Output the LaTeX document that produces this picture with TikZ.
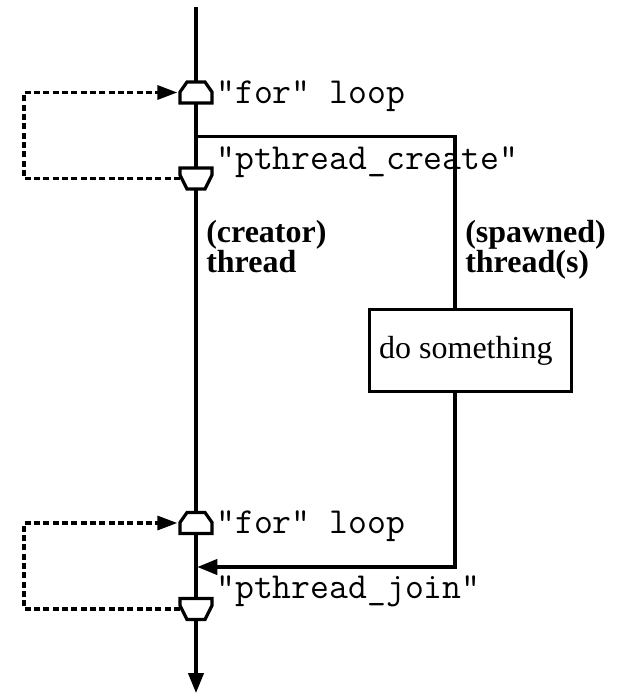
\documentclass[tikz,border=0pt]{standalone}
\usepackage{fontspec}
\setmainfont{Liberation Serif}
\usetikzlibrary{arrows.meta}
\begin{document}
\begin{tikzpicture}[x=0.75pt,y=-0.75pt,line join=miter,
  flow/.style={line width=2.4pt},
  tipA/.style={-{Triangle[length=15pt,width=11.5pt]}},
  loopdash/.style={line width=2.4pt,dash pattern=on 4.5pt off 2.5pt,-{Triangle[length=15pt,width=10.5pt]},shorten >=2pt},
  sym/.style={minimum width=24pt,minimum height=15.75pt,inner sep=0pt,outer sep=0pt},
  mono/.style={font=\ttfamily\fontsize{27.5}{27.5}\selectfont,anchor=base west,inner sep=0pt},
  boldlbl/.style={font=\bfseries\fontsize{24}{22.5}\selectfont,anchor=base west,inner sep=0pt,align=left},
  task/.style={draw,line width=2.4pt,minimum width=151.5pt,minimum height=61.5pt,inner sep=0pt,font=\fontsize{24}{24}\selectfont}
]
\useasboundingbox (0,0) rectangle (621,696);

% named points on the creator thread
\coordinate (top) at (196,7);
\node[sym] (f1) at (196,92.5) {};
\coordinate (fork) at (196,136.5);
\node[sym] (c1) at (196,178.5) {};
\node[sym] (f2) at (196,523) {};
\coordinate (join) at (196,567);
\node[sym] (j1) at (196,609) {};
\coordinate (bot) at (196,693);
\coordinate (sp) at (455,136.5);

% spawned thread box
\node[task] (task) at (470.5,350.5) {do something\hspace*{7pt}};

% main creator thread line
\draw[flow,tipA] (top) -- (bot);

% spawned thread path
\draw[flow] (fork) -- (sp) -- (sp |- task.north);
\draw[flow,tipA,shorten >=1pt] (sp |- task.south) -- (sp |- join) -- (join);

% loop symbols
\foreach \n in {f1,f2}
  \draw[flow,fill=white,shift={(\n)}] (-9,-10.5) -- (9,-10.5) -- (16,-0.5) -- (16,10.5) -- (-16,10.5) -- (-16,-0.5) -- cycle;
\foreach \n in {c1,j1}
  \draw[flow,fill=white,shift={(\n)}] (-16,-10.5) -- (16,-10.5) -- (16,-3.5) -- (9,10.5) -- (-9,10.5) -- (-16,-3.5) -- cycle;

% loop-back dashed arrows
\draw[loopdash] (c1.west) -- ++(-156,0) |- (f1.west);
\draw[loopdash] (j1.west) -- ++(-156,0) |- (f2.west);

% texts
\node[mono] (t1) at (216,103) {"for" loop};
\node[mono] (t2) at (216,169) {"pthread\_create"};
\node[mono] (t3) at (216,533) {"for" loop};
\node[mono] (t4) at (216,598) {"pthread\_join"};
\node[boldlbl] (creator) at (206,272.5) {(creator)\\thread};
\node[boldlbl] (spawned) at (465,272.5) {(spawned)\\thread(s)};
\end{tikzpicture}
\end{document}
